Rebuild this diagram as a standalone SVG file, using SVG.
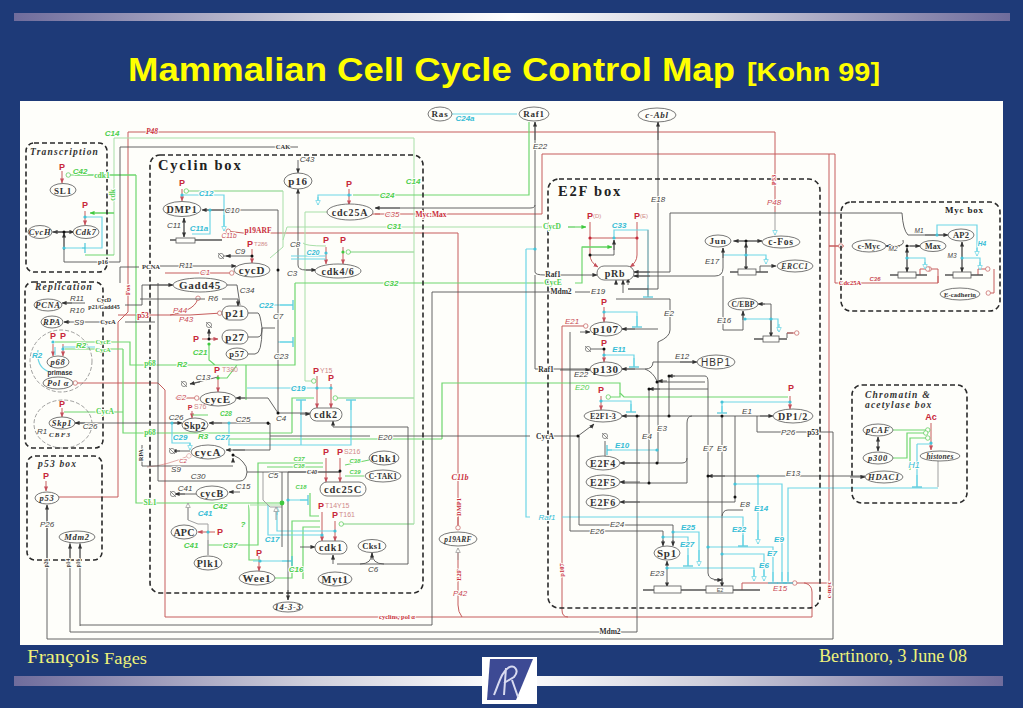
<svg xmlns="http://www.w3.org/2000/svg" width="1023" height="708" viewBox="0 0 1023 708">
<style>
path,line{fill:none}
.k{stroke:#555;stroke-width:.9}
.g{stroke:#6ed66e;stroke-width:1.2}
.h{stroke:#a8dfa8;stroke-width:1}
.c{stroke:#6dd5e6;stroke-width:1.2}
.r{stroke:#c65c5c;stroke-width:1}
.y{stroke:#a0a0a0;stroke-width:1}
.bx{fill:none;stroke:#2a2a2a;stroke-width:1.6;stroke-dasharray:5 3}
.ci{fill:none;stroke:#777;stroke-width:.7;stroke-dasharray:4 2}
.dk{fill:#111;r:1.5px}.dc{fill:#45c3d8;r:1.6px}.dg{fill:#3fc93f;r:1.6px}.dr{fill:#c62b3a;r:1.6px}
.nd{fill:#fefefa;stroke:#555;stroke-width:.8}
.gb{fill:#fefefa;stroke:#555;stroke-width:.8}
text{font-family:"Liberation Sans",Arial,sans-serif}
.n,.ni{font-family:"Liberation Serif","Times New Roman",serif;font-weight:700;fill:#333;text-anchor:middle;font-size:11px;letter-spacing:.8px}
.ni{font-style:italic;font-size:8.5px;letter-spacing:.7px}
.t{font-family:"Liberation Serif","Times New Roman",serif;font-weight:700;fill:#222;letter-spacing:1.8px;font-size:14.5px}
.ti{font-family:"Liberation Serif","Times New Roman",serif;font-weight:700;font-style:italic;fill:#333;letter-spacing:1.2px;font-size:9.5px}
.l,.lc,.lg,.lr,.lb,.lgb,.lrb{font-size:8px;font-style:italic;text-anchor:middle;paint-order:stroke;stroke:#fefefa;stroke-width:2px;stroke-linejoin:round}
.l{fill:#444}.lc{fill:#37bdd6;font-weight:700}.lg{fill:#4fcf4f;font-weight:700}.lr{fill:#c94a55}
.lb,.lgb,.lrb{font-family:"Liberation Serif",serif;font-style:normal;font-weight:700;font-size:7.5px}
.lb{fill:#333}.lgb{fill:#4fcf4f}.lrb{fill:#c92f3c}
.p{font-size:9px;font-weight:700;fill:#c8283a;text-anchor:middle}
.pn{font-size:7px;fill:#d08a8a}
.fo{font-family:"Liberation Serif","Times New Roman",serif;fill:#eef27a}
</style>
<defs>
<linearGradient id="bar" x1="0" x2="1" y1="0" y2="0"><stop offset="0" stop-color="#6f6c9c"/><stop offset=".3" stop-color="#cfcfdc"/><stop offset=".5" stop-color="#fff"/><stop offset=".7" stop-color="#cfcfdc"/><stop offset="1" stop-color="#6f6c9c"/></linearGradient>
<marker id="ak" viewBox="0 0 6 6" refX="5.5" refY="3" markerWidth="5" markerHeight="5" markerUnits="userSpaceOnUse" orient="auto-start-reverse"><path d="M0,.5 6,3 0,5.5z" style="fill:#333"/></marker>
<marker id="ar" viewBox="0 0 6 6" refX="5.5" refY="3" markerWidth="5" markerHeight="5" markerUnits="userSpaceOnUse" orient="auto"><path d="M0,.5 6,3 0,5.5z" style="fill:#c5505c"/></marker>
<marker id="ag" viewBox="0 0 6 6" refX="5.5" refY="3" markerWidth="5" markerHeight="5" markerUnits="userSpaceOnUse" orient="auto"><path d="M0,.5 6,3 0,5.5z" style="fill:#3fc93f"/></marker>
<marker id="or" viewBox="0 0 8 8" refX="7" refY="4" markerWidth="6" markerHeight="6" markerUnits="userSpaceOnUse" orient="auto"><circle cx="4" cy="4" r="3" style="fill:#fefefa;stroke:#c96a6a"/></marker>
<marker id="oc" viewBox="0 0 8 8" refX="7" refY="4" markerWidth="6" markerHeight="6" markerUnits="userSpaceOnUse" orient="auto"><path d="M1,1 7,4 1,7z" style="fill:#fefefa;stroke:#6dd5e6"/></marker>
<marker id="og" viewBox="0 0 8 8" refX="7" refY="4" markerWidth="6" markerHeight="6" markerUnits="userSpaceOnUse" orient="auto"><circle cx="4" cy="4" r="3" style="fill:#fefefa;stroke:#5fcf5f"/></marker>
<marker id="oy" viewBox="0 0 8 8" refX="7" refY="4" markerWidth="6" markerHeight="6" markerUnits="userSpaceOnUse" orient="auto"><path d="M1,1 7,4 1,7z" style="fill:#fefefa;stroke:#999"/></marker>
<marker id="tc" viewBox="0 0 4 12" refX="3" refY="6" markerWidth="4" markerHeight="10" markerUnits="userSpaceOnUse" orient="auto"><path d="M3,0V12" style="stroke:#45c3d8;stroke-width:1.4"/></marker>
<g id="deg"><circle r="2.6" style="fill:#fefefa;stroke:#666;stroke-width:.7"/><path d="M-3,-3 3,3" style="stroke:#666;stroke-width:.7"/></g>
</defs>

<rect width="1023" height="708" fill="#1e3a78"/>
<rect x="14" y="13" width="996" height="8" fill="url(#bar)"/>
<rect x="14" y="676" width="989" height="10" fill="url(#bar)"/>
<rect x="20" y="101" width="983" height="544" fill="#fefefa"/>
<text x="128" y="81" font-size="34" font-weight="700" fill="#ffff00" textLength="607" lengthAdjust="spacingAndGlyphs">Mammalian Cell Cycle Control Map</text>
<text x="747" y="81" font-size="25" font-weight="700" fill="#ffff00" textLength="133" lengthAdjust="spacingAndGlyphs">[Kohn 99]</text>
<text class="fo" x="27" y="663" font-size="19" textLength="72" lengthAdjust="spacingAndGlyphs">François</text>
<text class="fo" x="104" y="664" font-size="17" textLength="43" lengthAdjust="spacingAndGlyphs">Fages</text>
<text class="fo" x="819" y="662" font-size="19" textLength="148" lengthAdjust="spacingAndGlyphs">Bertinoro, 3 June 08</text>
<g id="logo"><rect x="482" y="657" width="55" height="47" fill="#fff"/><path d="M490,659H533L516,700H487Z" style="fill:#3d4a94"/><path d="M494,695C500,680 502,672 508,668C514,664 520,670 514,677L504,683M506,668L504,695M512,680L518,697" style="stroke:#d8daf0;stroke-width:2"/></g>

<g id="connectors">
<path class="r" d="M128,312V132H775V212M128,312L118,322V497H59"/>
<path class="y" marker-end="url(#oc)" d="M775,212V235"/>
<path class="r" d="M375,214H542V154H835V283M829,154V583H804M844,246H829M835,283H938V276"/>
<path class="r" marker-end="url(#or)" d="M938,283V269H927"/>
<path class="r" marker-end="url(#ar)" d="M380,214H367"/>
<path class="r" marker-end="url(#or)" d="M829,246H843"/>
<path class="r" d="M812,617V592Q812,585 805,583H796"/>
<path class="r" marker-end="url(#or)" d="M790,583H797"/>
<path class="r" d="M742,590V583H790"/>
<path class="r" d="M165,390V617H812M562,326V610Q562,617 568,617M158,383L165,390"/>
<path class="r" marker-end="url(#or)" d="M562,326H588"/>
<path class="r" marker-end="url(#or)" d="M158,383H73"/>
<path class="r" d="M243,233H458V525M462,617Q458,612 458,605V549M118,315H160"/>
<path class="r" marker-end="url(#or)" d="M243,233L226,231"/>
<path class="r" marker-end="url(#or)" d="M458,505V530"/>
<path class="y" marker-end="url(#oy)" d="M458,560V548"/>
<path class="r" marker-end="url(#or)" d="M165,273H234"/>
<path class="r" marker-end="url(#or)" d="M160,315H190L222,313"/>
<path class="r" marker-end="url(#or)" d="M170,315Q198,310 198,296"/>
<path class="r" marker-end="url(#or)" d="M175,398H199"/>
<path class="r" marker-end="url(#or)" d="M147,467Q165,466 191,455" style="opacity:.5"/>
<path class="r" marker-end="url(#or)" d="M994,269V293H986"/>
<path class="r" marker-end="url(#or)" d="M978,275V269H990"/>
<path class="r" marker-end="url(#or)" d="M920,275V269H930"/>
<path class="r" marker-end="url(#ar)" d="M62,171V183"/>
<path class="r" marker-end="url(#ar)" d="M85,211V225"/>
<path class="r" marker-end="url(#ar)" d="M182,189V201"/>
<path class="r" marker-end="url(#ar)" d="M252,249V263"/>
<path class="r" marker-end="url(#ar)" d="M218,375V392"/>
<path class="r" marker-end="url(#ar)" d="M192,411V418"/>
<path class="r" marker-end="url(#ar)" d="M202,339H218"/>
<path class="r" marker-end="url(#ar)" d="M53,344V356"/>
<path class="r" marker-end="url(#ar)" d="M63,344V356"/>
<path class="r" marker-end="url(#ar)" d="M62,408V417"/>
<path class="r" marker-end="url(#ar)" d="M46,481V491"/>
<path class="r" marker-end="url(#ar)" d="M215,532H198"/>
<path class="r" marker-end="url(#ar)" d="M259,556V571"/>
<path class="r" marker-end="url(#ar)" d="M349,189V205"/>
<path class="r" marker-end="url(#ar)" d="M326,247V264"/>
<path class="r" marker-end="url(#ar)" d="M343,247V264"/>
<path class="r" marker-end="url(#ar)" d="M317,376V408"/>
<path class="r" marker-end="url(#ar)" d="M331,384V408"/>
<path class="r" marker-end="url(#ar)" d="M326,458V482"/>
<path class="r" marker-end="url(#ar)" d="M340,458V482"/>
<path class="r" marker-end="url(#ar)" d="M322,512V541"/>
<path class="r" marker-end="url(#ar)" d="M335,521V541"/>
<path class="r" marker-end="url(#ar)" d="M590,222V255Q590,262 598,267"/>
<path class="r" marker-end="url(#ar)" d="M637,222V255Q637,262 630,267"/>
<path class="r" d="M590,238H637"/>
<path class="r" marker-end="url(#ar)" d="M604,307V322"/>
<path class="r" marker-end="url(#ar)" d="M604,348V362"/>
<path class="r" marker-end="url(#ar)" d="M601,396V410"/>
<path class="r" marker-end="url(#ar)" d="M790,396V409"/>
<path class="r" marker-end="url(#ar)" d="M931,423V450"/>
<path class="h" d="M114,255V138H414V398M414,398V524H342M335,398H414M185,191H283V247L270,258M283,240L287,227H542M568,227H575M305,212H330M305,212V381M347,252H414"/>
<path class="h" marker-end="url(#og)" d="M414,252H346"/>
<path class="h" marker-end="url(#og)" d="M414,398H333"/>
<path class="h" marker-end="url(#og)" d="M305,381H316"/>
<path class="h" marker-end="url(#og)" d="M414,524H339"/>
<path class="h" marker-end="url(#og)" d="M283,191H184"/>
<path class="g" d="M136,175H75M136,175V503H282M114,255H85M114,213H95"/>
<path class="g" marker-end="url(#og)" d="M136,175H66"/>
<path class="g" marker-end="url(#ag)" d="M114,213H90"/>
<path class="g" d="M529,122V195H353M442,439H222M442,439V383H620V393L624,397H788M295,283H548M575,283H582V247H610M295,283V365H130V342H55M123,349H65M123,349V433H292M64,412H123M292,433V398H314M248,505Q249,505 249,515V560H259M208,545H258V463H323M267,467H323M246,365V400M345,465L369,460M345,476H364M209,344V360L215,365M218,378H227L237,365M192,415H208M303,579V527H320M275,578H292V521H320M310,493V516H319"/>
<path class="g" marker-end="url(#ag)" d="M568,227H586"/>
<path class="g" marker-end="url(#ag)" d="M582,247H612"/>
<path class="g" marker-end="url(#og)" d="M620,393V397H606"/>
<path class="g" marker-end="url(#og)" d="M893,430H930"/>
<path class="g" marker-end="url(#og)" d="M893,458H907V433H928"/>
<path class="g" marker-end="url(#og)" d="M910,470V438H930"/>
<path class="y" d="M208,555V540M208,524H198L188,520V503"/>
<path class="h" d="M250,505H282"/>
<path class="c" d="M182,195H224V230M210,210V234H192M85,217H102V248H64M452,114H517M352,195H318V204M526,249H535M526,249V517H530M562,517H743V545M604,312H637V326M604,355H634V366M601,401H631V411M614,238V230H648V295M722,412V402H790M607,450H657M735,484H782V581M758,476V543M788,581V488H938M708,547H773V581M722,554H764V580M667,568H754V580M663,537H688V565M673,532H699V565M723,255H766V262M745,319H778V331M907,258H925V268M962,258H980V268M937,235V225H977V253M917,444H932M917,444V486M247,388H331M228,445H351V401M301,401V445M172,423V443H190V449M229,423V445M270,305H292M278,342H292M268,505V535H322M277,507V531H335M288,500H307M55,347V355M38,350Q36,368 50,372M62,347H95M253,561H291"/>
<path class="c" marker-end="url(#oc)" d="M224,215V231"/>
<path class="c" marker-end="url(#oc)" d="M318,197V205"/>
<path class="c" marker-end="url(#oc)" d="M699,550V566"/>
<path class="c" marker-end="url(#oc)" d="M758,530V544"/>
<path class="c" marker-end="url(#oc)" d="M754,570V581"/>
<path class="c" marker-end="url(#oc)" d="M764,570V581"/>
<path class="c" marker-end="url(#oc)" d="M766,258V264"/>
<path class="c" marker-end="url(#oc)" d="M779,324V332"/>
<path class="c" marker-end="url(#oc)" d="M925,262V269"/>
<path class="c" marker-end="url(#oc)" d="M980,262V270"/>
<path class="c" marker-end="url(#oc)" d="M977,248V256"/>
<path class="c" marker-end="url(#oc)" d="M190,443V450"/>
<path class="c" marker-end="url(#oc)" d="M277,515V507"/>
<path class="c" marker-end="url(#tc)" d="M637,316V327"/>
<path class="c" marker-end="url(#tc)" d="M634,358V367"/>
<path class="c" marker-end="url(#tc)" d="M631,404V412"/>
<path class="c" marker-end="url(#tc)" d="M722,406V413"/>
<path class="c" marker-end="url(#tc)" d="M648,285V297"/>
<path class="c" marker-end="url(#tc)" d="M743,535V546"/>
<path class="c" marker-end="url(#tc)" d="M688,555V566"/>
<path class="c" marker-end="url(#tc)" d="M773,572V583"/>
<path class="c" marker-end="url(#tc)" d="M782,572V583"/>
<path class="c" marker-end="url(#tc)" d="M788,572V583"/>
<path class="c" marker-end="url(#tc)" d="M917,475V487"/>
<path class="c" marker-end="url(#tc)" d="M612,450H607"/>
<path class="c" marker-end="url(#tc)" d="M280,305H293"/>
<path class="c" marker-end="url(#tc)" d="M280,342H293"/>
<path class="c" marker-end="url(#tc)" d="M301,410V400"/>
<path class="c" marker-end="url(#tc)" d="M351,410V400"/>
<path class="c" marker-end="url(#tc)" d="M300,500H308"/>
<path class="c" marker-end="url(#tc)" d="M282,561H292"/>
<path class="c" marker-end="url(#tc)" d="M82,248H85"/>
<path class="y" d="M938,461V487M648,230V297"/>
<path class="y" marker-end="url(#oy)" d="M188,520V503"/>
<path class="y" d="M263,472V500L270,507H282M208,524V555"/>
<path class="y" marker-end="url(#oy)" d="M276,520V507"/>
<path class="k" d="M120,147H298M120,147V262H64M120,267H139M120,267V283M432,625H80M432,292H565M575,292H590M432,292V625M70,632H637V416M47,639H833V432H790M757,416V432H790M80,626V537M70,632V537M47,639V505M158,283V481H240Q246,481 247,472M233,455Q240,458 243,462Q247,466 247,472H340M233,466H142V445M172,285H142V305H125M125,322H155M278,270V413M278,270V210H205M282,472V547M288,472V600M408,427V564H337M408,427H333M270,436H370M380,436H530M552,436H578L594,424M535,122V272Q535,275 545,275M535,275V369H590M535,205Q535,208 530,208H376M670,213H902Q903,230 908,235H945M670,213V272H634M903,240Q905,246 895,246H886M907,246H920M648,289H628M658,122V289H628M616,299H670V330Q670,337 658,342V463M622,329H658M645,369Q653,369 653,362H695M645,369Q653,372 657,381M622,369H645M668,376H705Q708,376 708,382V573Q708,580 720,580M657,382H705M649,389H708M649,389V483M669,376V416M622,416H770M622,463H682Q687,463 687,458V423Q687,416 692,416M687,458V483H622M735,416V502H625M722,416V586M743,510H728Q723,510 722,516M708,476H865M579,436V525H673V545M570,332V531H663V545M723,248V268Q723,276 715,276H632M723,276V330H743V311M733,241H762M746,241V270M771,304V337M760,304H771M907,248V272M962,242V272M878,437V451M52,232H73M64,232V262M64,303H85M64,322H105M212,423H268V425M72,423H180M270,423V450H233M268,425L270,423M252,256H222M218,377L190,384M209,339V330M197,494H175M172,451H190M605,457V441M604,349H590M248,313H258Q260,313 262,328H275M248,337H258Q262,337 262,328M248,354H255Q262,354 262,328M227,285H237L240,305M140,299H205M222,299H238V306M333,564V555M372,553Q372,564 360,564M372,553Q372,564 384,564M340,472H288M238,398H268L278,413H310M184,237V218"/>
<path class="k" marker-end="url(#ak)" d="M160,266H236"/>
<path class="k" marker-end="url(#ak)" d="M73,232H53"/>
<path class="k" marker-end="url(#ak)" d="M54,232H74"/>
<path class="k" marker-end="url(#ak)" d="M64,250V233"/>
<path class="k" marker-end="url(#ak)" d="M298,160V173"/>
<path class="k" marker-end="url(#ak)" d="M298,195V189"/>
<path class="k" d="M298,195V265Q298,270 306,270H315"/>
<path class="k" marker-end="url(#ak)" d="M306,270H316"/>
<path class="k" marker-end="url(#ak)" d="M230,210H202"/>
<path class="k" marker-end="url(#ak)" marker-start="url(#ak)" d="M184,218V237"/>
<path class="k" marker-end="url(#ak)" d="M231,256H226"/>
<path class="k" marker-end="url(#ak)" d="M200,382L190,384"/>
<path class="k" marker-end="url(#ak)" d="M209,336V329"/>
<path class="k" marker-end="url(#ak)" d="M150,285H173"/>
<path class="k" marker-end="url(#ak)" d="M238,300V306"/>
<path class="k" marker-end="url(#ak)" d="M72,303H62"/>
<path class="k" marker-end="url(#ak)" d="M70,322H64"/>
<path class="k" marker-end="url(#ak)" d="M85,423H75"/>
<path class="k" marker-end="url(#ak)" d="M172,423H182"/>
<path class="k" marker-end="url(#ak)" d="M222,423H209"/>
<path class="k" marker-end="url(#ak)" d="M245,398H236"/>
<path class="k" marker-end="url(#ak)" d="M245,450H226"/>
<path class="k" marker-end="url(#ak)" d="M233,462V458"/>
<path class="k" marker-end="url(#ak)" d="M300,414H310"/>
<path class="k" marker-end="url(#ak)" d="M333,427V421"/>
<path class="k" marker-end="url(#ak)" d="M185,494H175"/>
<path class="k" marker-end="url(#ak)" d="M240,492H229"/>
<path class="k" marker-end="url(#ak)" d="M180,451H172"/>
<path class="k" marker-end="url(#ak)" d="M288,590V600"/>
<path class="k" marker-end="url(#ak)" d="M300,547H315"/>
<path class="k" marker-end="url(#ak)" d="M333,560V555"/>
<path class="k" marker-end="url(#ak)" d="M372,560V553"/>
<path class="k" marker-end="url(#ak)" d="M47,560V505"/>
<path class="k" marker-end="url(#ak)" d="M70,560V544"/>
<path class="k" marker-end="url(#ak)" d="M80,560V544"/>
<path class="k" marker-end="url(#ak)" d="M535,140V122"/>
<path class="k" marker-end="url(#ak)" d="M658,140V122"/>
<path class="k" marker-end="url(#ak)" d="M400,208H375"/>
<path class="k" marker-end="url(#ak)" d="M560,275H597"/>
<path class="k" marker-end="url(#ak)" d="M560,370H590"/>
<path class="k" marker-end="url(#ak)" d="M628,285V278"/>
<path class="k" marker-end="url(#ak)" d="M616,285V280"/>
<path class="k" marker-end="url(#ak)" d="M623,293V280"/>
<path class="k" marker-end="url(#ak)" d="M650,272H634"/>
<path class="k" marker-end="url(#ak)" d="M650,276H634"/>
<path class="k" d="M590,255H614V240"/>
<path class="k" marker-end="url(#ak)" d="M614,250V240"/>
<path class="k" marker-end="url(#ak)" d="M635,329H622"/>
<path class="k" marker-end="url(#ak)" d="M580,332H590"/>
<path class="k" marker-end="url(#ak)" d="M635,369H622"/>
<path class="k" marker-end="url(#ak)" d="M680,362H697"/>
<path class="k" marker-end="url(#ak)" d="M640,416H622"/>
<path class="k" marker-end="url(#ak)" d="M760,416H773"/>
<path class="k" marker-end="url(#ak)" d="M590,428L594,424"/>
<path class="k" marker-end="url(#ak)" d="M640,463H620"/>
<path class="k" marker-end="url(#ak)" d="M640,482H620"/>
<path class="k" marker-end="url(#ak)" d="M640,502H620"/>
<path class="k" marker-end="url(#ak)" d="M667,381H658"/>
<path class="k" marker-end="url(#ak)" d="M675,376H668"/>
<path class="k" marker-end="url(#ak)" d="M660,389H649"/>
<path class="k" marker-end="url(#ak)" d="M725,476H708"/>
<path class="k" marker-end="url(#ak)" d="M850,477H865"/>
<path class="k" marker-end="url(#ak)" d="M663,540V546"/>
<path class="k" marker-end="url(#ak)" d="M673,540V546"/>
<path class="k" marker-end="url(#ak)" marker-start="url(#ak)" d="M667,561V587"/>
<path class="k" marker-end="url(#ak)" d="M722,578V587"/>
<path class="k" marker-end="url(#ak)" d="M714,580H722"/>
<path class="k" marker-end="url(#ak)" marker-start="url(#ak)" d="M734,241H762"/>
<path class="k" marker-end="url(#ak)" marker-start="url(#ak)" d="M746,243V271"/>
<path class="k" marker-end="url(#ak)" d="M723,258V248"/>
<path class="k" marker-end="url(#ak)" d="M743,320V311"/>
<path class="k" marker-end="url(#ak)" d="M765,304H758"/>
<path class="k" marker-end="url(#ak)" d="M771,320V337"/>
<path class="k" marker-end="url(#ak)" d="M760,272V266H776"/>
<path class="k" d="M787,338V333H793"/>
<path class="r" marker-end="url(#or)" d="M787,333H799"/>
<path class="k" marker-end="url(#ak)" d="M925,235H948"/>
<path class="k" marker-end="url(#ak)" d="M900,246H886"/>
<path class="k" marker-end="url(#ak)" d="M910,246H920"/>
<path class="k" marker-end="url(#ak)" marker-start="url(#ak)" d="M907,248V272"/>
<path class="k" marker-end="url(#ak)" marker-start="url(#ak)" d="M962,242V272"/>
<path class="k" marker-end="url(#ak)" marker-start="url(#ak)" d="M878,437V451"/>
<use href="#deg" x="221" y="256"/><use href="#deg" x="184" y="384"/><use href="#deg" x="209" y="325"/><use href="#deg" x="172" y="451"/><use href="#deg" x="173" y="494"/><use href="#deg" x="605" y="436"/><use href="#deg" x="588" y="349"/>
<circle class="dk" cx="64" cy="232"/><circle class="dk" cx="252" cy="256"/><circle class="dk" cx="278" cy="270"/><circle class="dk" cx="278" cy="413"/><circle class="dk" cx="209" cy="339"/><circle class="dk" cx="233" cy="455"/><circle class="dk" cx="340" cy="471"/><circle class="dk" cx="268" cy="423"/><circle class="dk" cx="590" cy="255"/><circle class="dk" cx="746" cy="241"/><circle class="dk" cx="604" cy="349"/><circle class="dk" cx="637" cy="416"/><circle class="dk" cx="669" cy="376"/><circle class="dk" cx="669" cy="416"/><circle class="dk" cx="657" cy="382"/><circle class="dk" cx="649" cy="389"/><circle class="dk" cx="657" cy="463"/><circle class="dk" cx="649" cy="483"/><circle class="dk" cx="722" cy="416"/><circle class="dk" cx="708" cy="476"/><circle class="dk" cx="735" cy="497"/><circle class="dk" cx="578" cy="436"/><circle class="dk" cx="907" cy="246"/>
<circle class="dr" cx="590" cy="238"/><circle class="dr" cx="637" cy="238"/>
<circle class="dc" cx="85" cy="217"/><circle class="dc" cx="64" cy="248"/><circle class="dc" cx="182" cy="195"/><circle class="dc" cx="210" cy="210"/><circle class="dc" cx="317" cy="388"/><circle class="dc" cx="331" cy="388"/><circle class="dc" cx="172" cy="423"/><circle class="dc" cx="229" cy="423"/><circle class="dc" cx="53" cy="342"/><circle class="dc" cx="63" cy="349"/><circle class="dc" cx="288" cy="500"/><circle class="dc" cx="322" cy="535"/><circle class="dc" cx="335" cy="531"/><circle class="dc" cx="208" cy="532"/><circle class="dc" cx="260" cy="561"/><circle class="dc" cx="349" cy="195"/><circle class="dc" cx="326" cy="253"/><circle class="dc" cx="535" cy="249"/><circle class="dc" cx="614" cy="238"/><circle class="dc" cx="604" cy="312"/><circle class="dc" cx="604" cy="355"/><circle class="dc" cx="601" cy="401"/><circle class="dc" cx="790" cy="402"/><circle class="dc" cx="722" cy="402"/><circle class="dc" cx="657" cy="450"/><circle class="dc" cx="735" cy="484"/><circle class="dc" cx="758" cy="476"/><circle class="dc" cx="708" cy="547"/><circle class="dc" cx="722" cy="554"/><circle class="dc" cx="667" cy="568"/><circle class="dc" cx="663" cy="537"/><circle class="dc" cx="673" cy="532"/><circle class="dc" cx="746" cy="255"/><circle class="dc" cx="745" cy="319"/><circle class="dc" cx="771" cy="319"/><circle class="dc" cx="907" cy="258"/><circle class="dc" cx="962" cy="258"/><circle class="dc" cx="931" cy="443"/><circle class="dc" cx="937" cy="235"/>
<circle class="dg" cx="282" cy="503" style="r:2.4px"/><circle class="dg" cx="218" cy="378"/><circle class="dg" cx="209" cy="344"/><circle class="dg" cx="343" cy="252"/>
<path class="c" d="M291,256H326M291,259H326"/>
<path class="h" d="M303,243Q305,246 326,246"/>
</g>

<g id="boxes">
<rect class="bx" x="26" y="143" width="81" height="129" rx="8"/>
<rect class="bx" x="25" y="282" width="78" height="166" rx="8"/>
<rect class="bx" x="27" y="456" width="75" height="104" rx="8"/>
<rect class="bx" x="150" y="155" width="273" height="438" rx="10"/>
<rect class="bx" x="548" y="179" width="272" height="429" rx="11"/>
<rect class="bx" x="841" y="202" width="159" height="109" rx="10"/>
<rect class="bx" x="852" y="385" width="115" height="118" rx="10"/>
<ellipse class="ci" cx="61" cy="361" rx="31" ry="31"/>
<ellipse class="ci" cx="63" cy="424" rx="29" ry="24"/>
<text class="ti" x="30" y="155">Transcription</text>
<text class="ti" x="35" y="290">Replication</text>
<text class="ti" x="38" y="467">p53 box</text>
<text class="t" x="158" y="170">Cyclin box</text>
<text class="t" x="558" y="196">E2F box</text>
<text class="t" x="945" y="213" style="font-size:9px;letter-spacing:.8px">Myc box</text>
<text class="ti" x="865" y="398">Chromatin &amp;</text>
<text class="ti" x="865" y="408">acetylase box</text>
</g>

<g id="genes">
<path class="k" d="M170,240H222M730,272H768M754,339H787M643,590H760M890,275H927M945,275H983" style="stroke-width:1.4"/>
<rect class="gb" x="176" y="238" width="19" height="5"/><rect class="gb" x="738" y="269" width="18" height="6"/><rect class="gb" x="763" y="336" width="16" height="6"/><rect class="gb" x="654" y="586" width="27" height="7"/><rect class="gb" x="706" y="586" width="27" height="7"/><rect class="gb" x="898" y="272" width="18" height="6"/><rect class="gb" x="953" y="272" width="18" height="6"/>
<text x="720" y="592" font-size="5.5" text-anchor="middle" fill="#555">E2</text>
</g>

<g id="n-SL1"><ellipse class="nd" cx="63" cy="190" rx="13" ry="6.5"/><text class="n" x="63" y="193.5" style="font-size:9px">SL1</text></g>
<g id="n-CycH"><ellipse class="nd" cx="40" cy="232" rx="12" ry="6.5"/><text class="ni" x="40" y="235">CycH</text></g>
<g id="n-Cdk7"><ellipse class="nd" cx="86" cy="232" rx="13" ry="6.5"/><text class="ni" x="86" y="235">Cdk7</text></g>
<g id="n-DMP1"><ellipse class="nd" cx="182" cy="209" rx="19" ry="7.5"/><text class="n" x="182" y="212.5" style="font-size:10px">DMP1</text></g>
<g id="n-cycD"><ellipse class="nd" cx="252" cy="270" rx="18" ry="7"/><text class="n" x="252" y="273.5">cycD</text></g>
<g id="n-Gadd45"><ellipse class="nd" cx="200" cy="285" rx="27" ry="7"/><text class="n" x="200" y="288.5">Gadd45</text></g>
<g id="n-PCNA"><ellipse class="nd" cx="48" cy="305" rx="14" ry="6"/><text class="ni" x="48" y="308">PCNA</text></g>
<g id="n-RPA"><ellipse class="nd" cx="52" cy="322" rx="11" ry="6"/><text class="ni" x="52" y="325">RPA</text></g>
<g id="n-p68"><ellipse class="nd" cx="58" cy="362" rx="11" ry="6"/><text class="ni" x="58" y="365">p68</text></g>
<g id="n-Pol"><ellipse class="nd" cx="58" cy="383" rx="15" ry="6"/><text class="ni" x="58" y="386">Pol α</text></g>
<g id="n-Skp1"><ellipse class="nd" cx="62" cy="423" rx="13" ry="6"/><text class="ni" x="62" y="426">Skp1</text></g>
<g id="n-Skp2"><ellipse class="nd" cx="195" cy="425" rx="13" ry="7"/><text class="n" x="195" y="428.5" style="font-size:9.5px;letter-spacing:.3px">Skp2</text></g>
<g id="n-p21"><rect class="nd" x="222" y="306" width="26" height="14" rx="7"/><text class="n" x="235" y="316.5">p21</text></g>
<g id="n-p27"><rect class="nd" x="222" y="330" width="26" height="14" rx="7"/><text class="n" x="235" y="340.5">p27</text></g>
<g id="n-p57"><ellipse class="nd" cx="237" cy="354" rx="11" ry="6"/><text class="n" x="237" y="357" style="font-size:8.5px">p57</text></g>
<g id="n-cycE"><ellipse class="nd" cx="218" cy="399" rx="18" ry="7"/><text class="n" x="218" y="402.5">cycE</text></g>
<g id="n-cycA"><ellipse class="nd" cx="208" cy="452" rx="17" ry="7"/><text class="n" x="208" y="455.5">cycA</text></g>
<g id="n-cycB"><ellipse class="nd" cx="212" cy="493" rx="16" ry="7"/><text class="n" x="212" y="496.5" style="font-size:10px">cycB</text></g>
<g id="n-APC"><ellipse class="nd" cx="184" cy="532" rx="13" ry="7"/><text class="n" x="184" y="535.5" style="font-size:10px;letter-spacing:.2px">APC</text></g>
<g id="n-Plk1"><ellipse class="nd" cx="208" cy="563" rx="14" ry="7"/><text class="n" x="208" y="566.5" style="font-size:10px">Plk1</text></g>
<g id="n-Wee1"><ellipse class="nd" cx="257" cy="578" rx="18" ry="7"/><text class="n" x="257" y="581.5">Wee1</text></g>
<g id="n-14-3-3"><ellipse class="nd" cx="288" cy="607" rx="15" ry="5"/><text class="ni" x="288" y="610">14-3-3</text></g>
<g id="n-p53"><ellipse class="nd" cx="47" cy="498" rx="12" ry="6"/><text class="ni" x="47" y="501">p53</text></g>
<g id="n-Mdm2"><ellipse class="nd" cx="77" cy="537" rx="18" ry="6"/><text class="ni" x="77" y="540">Mdm2</text></g>
<g id="n-Ras"><ellipse class="nd" cx="440" cy="114" rx="12" ry="7"/><text class="n" x="440" y="117" style="font-size:9px">Ras</text></g>
<g id="n-Raf1"><ellipse class="nd" cx="534" cy="114" rx="15" ry="7"/><text class="n" x="534" y="117" style="font-size:9px">Raf1</text></g>
<g id="n-p16"><ellipse class="nd" cx="298" cy="181" rx="14" ry="8"/><text class="n" x="298" y="184.5">p16</text></g>
<g id="n-cdc25A"><ellipse class="nd" cx="350" cy="212" rx="23" ry="8"/><text class="n" x="350" y="215.5" style="font-size:10px">cdc25A</text></g>
<g id="n-cdk46"><ellipse class="nd" cx="338" cy="271" rx="23" ry="7"/><text class="n" x="338" y="274.5" style="font-size:10px">cdk4/6</text></g>
<g id="n-cdk2"><rect class="nd" x="310" y="408" width="32" height="13" rx="6.5"/><text class="n" x="326" y="418" style="font-size:10px">cdk2</text></g>
<g id="n-Chk1"><ellipse class="nd" cx="384" cy="458" rx="15" ry="7"/><text class="n" x="384" y="461.5" style="font-size:10px">Chk1</text></g>
<g id="n-CTAK1"><ellipse class="nd" cx="383" cy="476" rx="18" ry="6"/><text class="n" x="383" y="479" style="font-size:7.5px;letter-spacing:.2px">C-TAK1</text></g>
<g id="n-cdc25C"><rect class="nd" x="320" y="482" width="46" height="14" rx="7"/><text class="n" x="343" y="492.5" style="font-size:10.5px">cdc25C</text></g>
<g id="n-cdk1"><rect class="nd" x="315" y="541" width="32" height="13" rx="6.5"/><text class="n" x="331" y="551" style="font-size:10px">cdk1</text></g>
<g id="n-Cks1"><ellipse class="nd" cx="372" cy="546" rx="14" ry="6.5"/><text class="n" x="372" y="549" style="font-size:8.5px;letter-spacing:.3px">Cks1</text></g>
<g id="n-Myt1"><ellipse class="nd" cx="335" cy="579" rx="17" ry="7"/><text class="n" x="335" y="582.5" style="font-size:10.5px">Myt1</text></g>
<g id="n-p19ARF"><ellipse class="nd" cx="458" cy="539" rx="19" ry="7"/><text class="ni" x="458" y="542" style="font-size:7.5px;letter-spacing:.2px">p19ARF</text></g>
<g id="n-cAbl"><ellipse class="nd" cx="657" cy="115" rx="19" ry="7"/><text class="ni" x="657" y="118" style="font-size:9px">c-Abl</text></g>
<g id="n-pRb"><rect class="nd" x="597" y="266" width="37" height="14" rx="7"/><text class="n" x="615" y="276.5" style="font-size:10px">pRb</text></g>
<g id="n-Jun"><ellipse class="nd" cx="718" cy="241" rx="13" ry="6"/><text class="n" x="718" y="244" style="font-size:9px">Jun</text></g>
<g id="n-cFos"><ellipse class="nd" cx="781" cy="242" rx="19" ry="6"/><text class="n" x="781" y="245" style="font-size:9.5px">c-Fos</text></g>
<g id="n-ERCC1"><ellipse class="nd" cx="795" cy="266" rx="18" ry="6"/><text class="ni" x="795" y="269" style="font-size:7.5px">ERCC1</text></g>
<g id="n-CEBP"><ellipse class="nd" cx="743" cy="304" rx="15" ry="6"/><text class="n" x="743" y="307" style="font-size:7.5px;letter-spacing:.2px">C/EBP</text></g>
<g id="n-p107"><ellipse class="nd" cx="606" cy="329" rx="16" ry="7"/><text class="n" x="606" y="332.5">p107</text></g>
<g id="n-p130"><ellipse class="nd" cx="606" cy="369" rx="16" ry="7"/><text class="n" x="606" y="372.5">p130</text></g>
<g id="n-HBP1"><ellipse class="nd" cx="716" cy="362" rx="19" ry="7"/><text x="716" y="365.5" font-size="10" font-family="Liberation Sans" text-anchor="middle" letter-spacing="1" fill="#333">HBP1</text></g>
<g id="n-E2F13"><ellipse class="nd" cx="603" cy="416" rx="19" ry="6"/><text class="n" x="603" y="419" style="font-size:8px;letter-spacing:.2px">E2F1-3</text></g>
<g id="n-DP12"><ellipse class="nd" cx="793" cy="416" rx="20" ry="7"/><text class="n" x="793" y="419.5" style="font-size:10px">DP1/2</text></g>
<g id="n-E2F4"><ellipse class="nd" cx="603" cy="463" rx="17" ry="7"/><text class="n" x="603" y="466.5" style="font-size:10px">E2F4</text></g>
<g id="n-E2F5"><ellipse class="nd" cx="603" cy="482" rx="17" ry="7"/><text class="n" x="603" y="485.5" style="font-size:10px">E2F5</text></g>
<g id="n-E2F6"><ellipse class="nd" cx="603" cy="502" rx="17" ry="7"/><text class="n" x="603" y="505.5" style="font-size:10px">E2F6</text></g>
<g id="n-Sp1"><ellipse class="nd" cx="667" cy="553" rx="13" ry="7"/><text class="n" x="667" y="556.5">Sp1</text></g>
<g id="n-cMyc"><ellipse class="nd" cx="869" cy="246" rx="17" ry="6"/><text class="n" x="869" y="249" style="font-size:8px;letter-spacing:.2px">c-Myc</text></g>
<g id="n-Max"><ellipse class="nd" cx="933" cy="246" rx="13" ry="5.5"/><text class="n" x="933" y="249" style="font-size:8px;letter-spacing:.2px">Max</text></g>
<g id="n-AP2"><ellipse class="nd" cx="961" cy="235" rx="13" ry="6"/><text class="n" x="961" y="238" style="font-size:8.5px;letter-spacing:.2px">AP2</text></g>
<g id="n-Ecad"><ellipse class="nd" cx="960" cy="294" rx="20" ry="6"/><text class="n" x="960" y="296.5" style="font-size:6.5px;letter-spacing:.1px">E-cadherin</text></g>
<g id="n-pCAF"><ellipse class="nd" cx="878" cy="430" rx="15" ry="6"/><text class="ni" x="878" y="433">pCAF</text></g>
<g id="n-p300"><ellipse class="nd" cx="878" cy="458" rx="15" ry="6"/><text class="ni" x="878" y="461">p300</text></g>
<g id="n-HDAC1"><ellipse class="nd" cx="884" cy="477" rx="19" ry="6"/><text class="ni" x="884" y="480">HDAC1</text></g>
<g id="n-histones"><ellipse class="nd" cx="940" cy="456" rx="20" ry="5"/><text class="ni" x="940" y="459" style="font-size:7.5px;letter-spacing:.2px">histones</text></g>

<g id="labels">
<text class="p" x="62" y="170">P</text><text class="p" x="85" y="208">P</text><text class="p" x="182" y="186">P</text><text class="p" x="250" y="247">P</text><text class="pn" x="254" y="246" style="font-size:6px">T286</text>
<text class="p" x="53" y="339">P</text><text class="p" x="63" y="339">P</text><text class="p" x="62" y="407">P</text><text class="p" x="46" y="479">P</text>
<text class="p" x="196" y="342">P</text><text class="p" x="217" y="373">P</text><text class="pn" x="222" y="372">T380</text><text class="p" x="190" y="410" style="font-size:7px">P</text><text class="pn" x="194" y="409">S76</text>
<text class="p" x="220" y="535">P</text><text class="p" x="259" y="556">P</text><text class="p" x="349" y="187">P</text><text class="p" x="326" y="243">P</text><text class="p" x="343" y="243">P</text>
<text class="p" x="316" y="374">P</text><text class="pn" x="320" y="373">Y15</text><text class="p" x="331" y="381">P</text><text class="p" x="326" y="455">P</text><text class="p" x="340" y="455">P</text><text class="pn" x="344" y="454">S216</text>
<text class="p" x="321" y="509">P</text><text class="pn" x="325" y="508">T14Y15</text><text class="p" x="335" y="518">P</text><text class="pn" x="339" y="517">T161</text>
<text class="p" x="590" y="219">P</text><text class="pn" x="593" y="218" style="font-size:6px">(D)</text><text class="p" x="637" y="219">P</text><text class="pn" x="640" y="218" style="font-size:6px">(E)</text>
<text class="p" x="604" y="305">P</text><text class="p" x="604" y="346">P</text><text class="p" x="601" y="393">P</text><text class="p" x="791" y="391">P</text><text class="p" x="931" y="420">Ac</text>

<text class="lgb" x="102" y="178">cdk1</text><text class="lg" x="80" y="174">C42</text><text class="lg" x="112" y="136">C14</text>
<text class="lrb" x="152" y="134" style="font-style:italic">P48</text>
<text class="lgb" transform="translate(115,195) rotate(-90)">cdk</text>
<text class="lb" x="103" y="264" style="font-size:6.5px">p16</text><text class="lb" x="283" y="149" style="font-size:6.5px">CAK</text>
<text class="l" x="307" y="162">C43</text>
<text class="lc" x="206" y="196">C12</text><text class="l" x="232" y="213">C10</text><text class="l" x="174" y="228">C11</text><text class="lc" x="199" y="231">C11a</text>
<text class="lr" x="229" y="238" style="font-size:6.5px">C11b</text><text class="lrb" x="258" y="233">p19ARF</text>
<text class="l" x="240" y="254">C9</text><text class="l" x="186" y="268">R11</text><text class="lr" x="205" y="275">C1</text><text class="lb" x="151" y="269" style="font-size:6.5px">PCNA</text>
<text class="lrb" transform="translate(130,290) rotate(-90)" style="font-size:7px">Fos</text>
<text class="l" x="247" y="293">C34</text><text class="l" x="213" y="301">R6</text><text class="lr" x="180" y="313">P44</text><text class="lr" x="186" y="322">P43</text><text class="lrb" x="143" y="318">p53</text>
<text class="l" x="77" y="301">R11</text><text class="l" x="77" y="313">R10</text><text class="lb" x="104" y="302" style="font-size:6px">CycD</text><text class="lb" x="104" y="309" style="font-size:6px">p21/Gadd45</text>
<text class="l" x="79" y="325">S9</text><text class="lb" x="108" y="324" style="font-size:6.5px">CycA</text>
<text class="lgb" x="103" y="344" style="font-size:6.5px">CycE</text><text class="lgb" x="103" y="352" style="font-size:6.5px">CycA</text><text class="lg" x="81" y="348">R2</text><text class="lc" x="37" y="358">R2</text>
<text x="60" y="375" font-family="Liberation Serif" font-size="6.5" font-weight="700" text-anchor="middle" fill="#333">primase</text>
<text class="lgb" x="105" y="414">CycA</text><text class="l" x="90" y="429">C26</text><text class="l" x="176" y="420">C26</text>
<text class="l" x="42" y="434" style="stroke:none">R1</text><text class="ti" x="49" y="437" style="font-size:7px">CBF3</text>
<text class="lgb" x="150" y="366">p68</text><text class="lg" x="182" y="367">R2</text><text class="lgb" x="150" y="435">p68</text><text class="lg" x="203" y="439">R3</text>
<text class="lg" x="200" y="355">C21</text><text class="l" x="203" y="380">C13</text><text class="lr" x="181" y="400">C2</text>
<text class="lg" x="226" y="416" style="font-size:6.5px">C28</text><text class="l" x="243" y="422">C25</text><text class="lc" x="180" y="440">C29</text><text class="lc" x="222" y="440">C27</text><text class="lr" x="183" y="463" style="font-size:6px">C2</text><text class="l" x="176" y="472">S9</text><text class="l" x="198" y="479">C30</text>
<text class="lb" transform="translate(143,455) rotate(-90)" style="font-size:6px">RPA</text>
<text class="l" x="243" y="489">C15</text><text class="l" x="273" y="478">C5</text><text class="l" x="185" y="491">C41</text><text class="lc" x="205" y="516">C41</text><text class="lg" x="220" y="509">C42</text><text class="lgb" x="150" y="505">SL1</text><text class="lg" x="243" y="527">?</text>
<text class="lg" x="191" y="548">C41</text><text class="lg" x="230" y="548">C37</text><text class="lc" x="272" y="542">C17</text><text class="lg" x="296" y="572">C16</text>
<text class="l" x="47" y="527">P26</text>
<text class="lb" transform="translate(48,563) rotate(-90)" style="font-size:5.5px">p26</text><text class="lb" transform="translate(70,563) rotate(-90)" style="font-size:5.5px">p14</text><text class="lb" transform="translate(80,563) rotate(-90)" style="font-size:5.5px">p16</text>
<text class="lc" x="465" y="121">C24a</text><text class="l" x="540" y="149">E22</text><text class="lg" x="413" y="184">C14</text><text class="lg" x="387" y="198">C24</text>
<text class="lr" x="392" y="217">C35</text><text class="lrb" x="431" y="217">Myc:Max</text><text class="lg" x="394" y="229">C31</text><text class="lg" x="391" y="286">C32</text>
<text class="l" x="295" y="247">C8</text><text class="lc" x="313" y="255" style="font-size:7px">C20</text><text class="l" x="292" y="276">C3</text>
<text class="lc" x="266" y="308">C22</text><text class="l" x="278" y="319">C7</text><text class="l" x="281" y="359">C23</text><text class="lc" x="298" y="391">C19</text><text class="l" x="281" y="421">C4</text>
<text class="l" x="385" y="440">E20</text><text class="lb" x="545" y="439">CycA</text>
<text class="lg" x="299" y="461" style="font-size:6px">C37</text><text class="lg" x="299" y="468" style="font-size:6px">C38</text><text class="lb" x="312" y="474" style="font-style:italic;font-size:6px">C40</text><text class="lg" x="355" y="463" style="font-size:6px">C38</text><text class="lg" x="355" y="474" style="font-size:6px">C39</text><text class="lg" x="301" y="489" style="font-size:6px">C18</text>
<text class="l" x="373" y="572">C6</text>
<text class="lrb" x="460" y="480" style="font-style:italic;font-size:8px">C11b</text><text class="lrb" transform="translate(461,507) rotate(-90)" style="font-size:6.5px">DMP1</text><text class="lrb" transform="translate(461,575) rotate(-90)" style="font-size:6.5px">E2F</text><text class="lr" x="460" y="596">P42</text><text class="lrb" x="397" y="619" style="font-size:6.5px">cyclins, pol α</text>
<text class="lb" x="610" y="634">Mdm2</text>
<text class="lgb" x="552" y="229">CycD</text><text class="lb" x="553" y="277">Raf1</text><text class="lgb" x="553" y="285">CycE</text><text class="lb" x="561" y="294">Mdm2</text><text class="l" x="598" y="294">E19</text><text class="lc" x="619" y="228">C33</text><text class="l" x="658" y="202">E18</text>
<text class="lrb" transform="translate(776,180) rotate(-90)" style="font-size:6.5px">P53</text><text class="lr" x="774" y="205">P48</text><text class="l" x="712" y="264">E17</text><text class="l" x="724" y="323">E16</text><text class="l" x="669" y="316">E2</text>
<text class="lr" x="572" y="324">E21</text><text class="lc" x="619" y="352">E11</text><text class="l" x="682" y="359">E12</text><text class="lb" x="546" y="372">Raf1</text><text class="l" x="581" y="377">E22</text><text class="lg" x="582" y="390" style="font-weight:400">E20</text>
<text class="l" x="747" y="414">E1</text><text class="l" x="662" y="431">E3</text><text class="l" x="647" y="439">E4</text><text class="lc" x="622" y="448">E10</text><text class="l" x="708" y="451">E7</text><text class="l" x="722" y="451">E5</text><text class="l" x="788" y="435">P26</text><text class="lb" x="813" y="435">p53</text>
<text class="l" x="793" y="476">E13</text><text class="l" x="745" y="507">E8</text><text class="lc" x="761" y="511">E14</text><text class="lc" x="739" y="532">E22</text><text class="lc" x="779" y="542">E9</text><text class="lc" x="772" y="556">E7</text><text class="lc" x="764" y="568">E6</text><text class="lr" x="780" y="591">E15</text>
<text class="lb" transform="translate(831,590) rotate(-90)" style="fill:#c92f3c;font-size:6.5px">c-myc</text>
<text class="lc" x="547" y="520" style="font-weight:400">Raf1</text>
<text class="l" x="617" y="527">E24</text><text class="l" x="597" y="534">E26</text><text class="lc" x="688" y="530">E25</text><text class="lc" x="687" y="547">E27</text><text class="l" x="657" y="576">E23</text>
<text class="lrb" transform="translate(564,570) rotate(-90)" style="font-size:6.5px">p107</text>
<text class="l" x="919" y="233" style="font-size:6.5px;stroke:none">M1</text><text class="l" x="893" y="251" style="font-size:6.5px">M2</text><text class="l" x="952" y="258" style="font-size:6.5px">M3</text><text class="lc" x="982" y="246" style="font-size:6.5px">H4</text><text class="lr" x="875" y="281" style="font-size:6px;font-weight:700">C36</text><text class="lrb" x="850" y="285" style="font-size:6.5px">Cdc25A</text>
<text class="lc" x="914" y="468" style="font-weight:400;font-size:9px">H1</text>
</g>
</svg>
